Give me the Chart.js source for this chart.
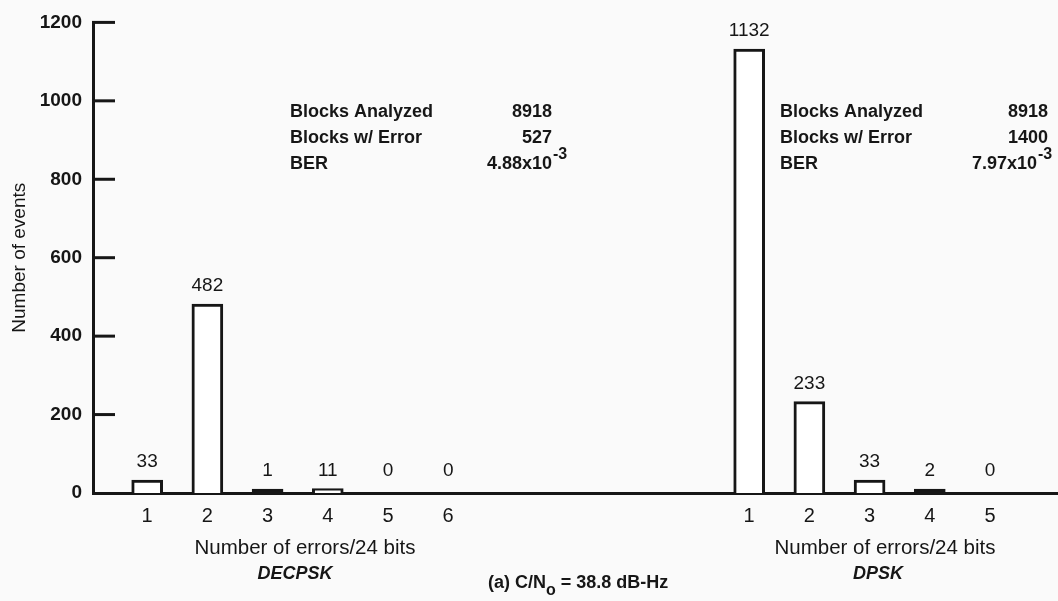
<!DOCTYPE html>
<html>
<head>
<meta charset="utf-8">
<script src="https://cdn.jsdelivr.net/npm/chart.js@4"></script>
<style>
    html, body { margin: 0; padding: 0; background: #fafafa; }
    .chart-container { position: relative; width: 1058px; height: 601px; }
</style>
</head>
<body>
<div class="chart-container"><canvas id="errorChart"></canvas></div>
<script>
// x slots: DECPSK 1-6, four empty slots, then DPSK 1-5
const slotLabels = ['1', '2', '3', '4', '5', '6', '', '', '', '', '1', '2', '3', '4', '5'];
const decpskSlots = [0, 1, 2, 3, 4, 5];
const decpskCounts = [33, 482, 1, 11, 0, 0];
const dpskSlots = [10, 11, 12, 13, 14];
const dpskCounts = [1132, 233, 33, 2, 0];
const yTicks = [0, 200, 400, 600, 800, 1000, 1200];

const statLabels = ['Blocks Analyzed', 'Blocks w/ Error', 'BER'];
const decpskStats = ['8918', '527', '4.88x10'];
const dpskStats = ['8918', '1400', '7.97x10'];
const berExponent = '-3';

const INK = '#161616';
const FONT = "'Liberation Sans', Arial, Helvetica, sans-serif";

function toPoints(slots, counts) {
    return slots.map(function(s, i) { return { x: s, y: counts[i] }; });
}

function barFill(ctx) {
    const v = ctx.raw ? ctx.raw.y : 0;
    if (v === 0) return 'rgba(0,0,0,0)';
    return v < 5 ? INK : '#ffffff';
}
function barBorder(ctx) {
    const v = ctx.raw ? ctx.raw.y : 0;
    return v === 0 ? 'rgba(0,0,0,0)' : INK;
}

// value labels above each bar
const valueLabels = {
    id: 'valueLabels',
    afterDatasetsDraw(chart) {
        const ctx = chart.ctx;
        ctx.save();
        ctx.fillStyle = INK;
        ctx.font = '19px ' + FONT;
        ctx.textAlign = 'center';
        ctx.textBaseline = 'middle';
        chart.data.datasets.forEach(function(ds, di) {
            chart.getDatasetMeta(di).data.forEach(function(el, i) {
                ctx.fillText(String(ds.data[i].y), el.x, el.y - 18);
            });
        });
        ctx.restore();
    }
};

// inward tick marks on the y axis + text annotations
const annotations = {
    id: 'annotations',
    afterDraw(chart) {
        const { ctx, chartArea, scales: { y } } = chart;
        ctx.save();
        ctx.strokeStyle = INK;
        ctx.lineWidth = 3;
        y.ticks.forEach(function(t) {
            if (t.value === 0) return;
            const py = y.getPixelForValue(t.value);
            ctx.beginPath();
            ctx.moveTo(chartArea.left - 1, py);
            ctx.lineTo(chartArea.left + 22, py);
            ctx.stroke();
        });

        ctx.fillStyle = INK;
        ctx.textBaseline = 'middle';
        const rows = [112, 138, 164];

        // stats blocks
        ctx.font = 'bold 18px ' + FONT;
        statLabels.forEach(function(label, i) {
            ctx.textAlign = 'left';
            ctx.fillText(label, 290, rows[i]);
            ctx.fillText(label, 780, rows[i]);
        });
        ctx.textAlign = 'right';
        ctx.fillText(decpskStats[0], 552, rows[0]);
        ctx.fillText(decpskStats[1], 552, rows[1]);
        ctx.fillText(decpskStats[2], 552, rows[2]);
        ctx.fillText(dpskStats[0], 1048, rows[0]);
        ctx.fillText(dpskStats[1], 1048, rows[1]);
        ctx.fillText(dpskStats[2], 1037, rows[2]);
        ctx.textAlign = 'left';
        ctx.font = 'bold 16px ' + FONT;
        ctx.fillText(berExponent, 553, rows[2] - 9);
        ctx.fillText(berExponent, 1038, rows[2] - 9);

        // group captions under the axis
        ctx.textAlign = 'center';
        ctx.font = '20.5px ' + FONT;
        ctx.fillText('Number of errors/24 bits', 305, 548);
        ctx.fillText('Number of errors/24 bits', 885, 548);
        ctx.font = 'italic bold 18px ' + FONT;
        ctx.fillText('DECPSK', 295, 574);
        ctx.fillText('DPSK', 878, 574);

        // figure caption
        ctx.textAlign = 'left';
        ctx.font = 'bold 18px ' + FONT;
        let x = 488;
        const part1 = '(a) C/N';
        ctx.fillText(part1, x, 583);
        x += ctx.measureText(part1).width;
        ctx.font = 'bold 16px ' + FONT;
        ctx.fillText('o', x, 591);
        x += ctx.measureText('o').width;
        ctx.font = 'bold 18px ' + FONT;
        ctx.fillText(' = 38.8 dB-Hz', x, 583);
        ctx.restore();
    }
};

document.addEventListener('DOMContentLoaded', function() {
    const ctx = document.getElementById('errorChart');

    new Chart(ctx.getContext('2d'), {
        type: 'bar',
        data: {
            datasets: [{
                label: 'DECPSK',
                data: toPoints(decpskSlots, decpskCounts),
                backgroundColor: barFill,
                borderColor: barBorder,
                borderWidth: 3,
                borderSkipped: 'start',
                barThickness: 31,
                minBarLength: 4,
                grouped: false
            }, {
                label: 'DPSK',
                data: toPoints(dpskSlots, dpskCounts),
                backgroundColor: barFill,
                borderColor: barBorder,
                borderWidth: 3,
                borderSkipped: 'start',
                barThickness: 31,
                minBarLength: 4,
                grouped: false
            }]
        },
        options: {
            responsive: true,
            maintainAspectRatio: false,
            animation: false,
            layout: {
                padding: { left: 0, right: 0, top: 18, bottom: 62 }
            },
            plugins: {
                legend: { display: false },
                tooltip: { enabled: false }
            },
            scales: {
                x: {
                    type: 'linear',
                    min: -0.9,
                    max: 15.13,
                    offset: false,
                    grid: { display: false, drawTicks: false, offset: false },
                    border: { display: true, width: 3, color: INK },
                    afterBuildTicks: function(axis) {
                        axis.ticks = slotLabels.map(function(l, i) { return { value: i }; });
                    },
                    ticks: {
                        autoSkip: false,
                        maxRotation: 0,
                        padding: 11,
                        color: INK,
                        font: { family: FONT, size: 20 },
                        callback: function(value) {
                            return slotLabels[value] !== undefined ? slotLabels[value] : '';
                        }
                    }
                },
                y: {
                    min: 0,
                    max: 1200,
                    afterBuildTicks: function(axis) {
                        axis.ticks = yTicks.map(function(v) { return { value: v }; });
                    },
                    afterFit: function(scale) {
                        scale.width = 93;
                    },
                    grid: { display: false, drawTicks: false },
                    border: { display: true, width: 3, color: INK },
                    ticks: {
                        padding: 11,
                        color: INK,
                        font: { family: FONT, size: 19, weight: 'bold' },
                        callback: function(value) { return String(value); }
                    },
                    title: {
                        display: true,
                        text: 'Number of events',
                        color: INK,
                        padding: { top: 8, bottom: 0 },
                        font: { family: FONT, size: 19 }
                    }
                }
            }
        },
        plugins: [valueLabels, annotations]
    });
});
</script>
</body>
</html>
